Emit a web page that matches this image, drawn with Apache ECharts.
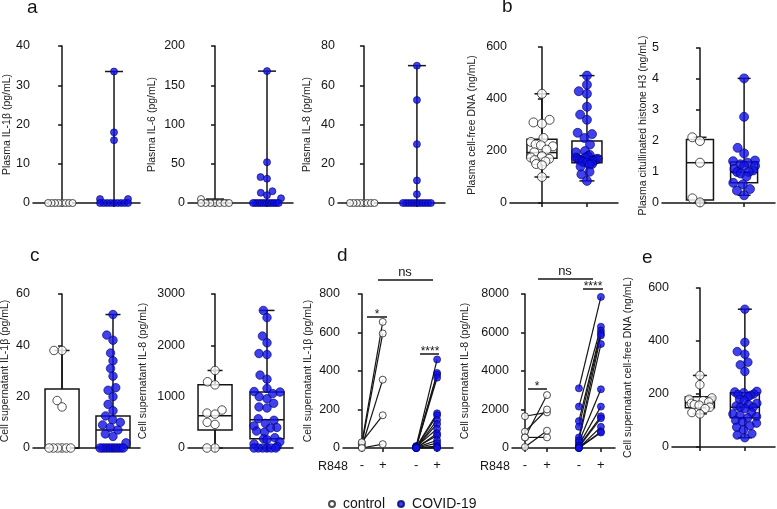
<!DOCTYPE html>
<html><head><meta charset="utf-8">
<script src="https://cdn.jsdelivr.net/npm/echarts@6/dist/echarts.min.js"></script>
<style>html,body{margin:0;padding:0;background:#fff}#c{width:777px;height:509px}</style>
</head><body><div id="c"></div>
<script>
// ================= DATA =================
// a: plasma cytokines
const a1Ctrl = [0,0,0,0,0,0,0,0];
const a1Covid = [33.5,18,16,1,1,0,0,0,0,0,0,0,0,0];
const a1CtrlBox = [0,0,0,0,0];
const a1CovidBox = [0,0,0,0,33.5];

const a2Ctrl = [5,0,0,0,0,0,0,0];
const a2Covid = [168,52,33,31,15,13,10,6,0,0,0,0,0,0,0,0,0,0,0,0];
const a2CtrlBox = [0,0,0,3.5,5];
const a2CovidBox = [0,0,0,1,168];

const a3Ctrl = [0,0,0,0,0,0,0,0];
const a3Covid = [70,52.5,30,11.5,4.5,0,0,0,0,0,0,0,0,0,0,0];
const a3CtrlBox = [0,0,0,0,0];
const a3CovidBox = [0,0,0,0,70];

// b: plasma cfDNA and citrullinated histone H3
const b1Ctrl = [420,320,310,305,250,235,225,222,218,205,195,180,175,170,165,160,150,145,100];
const b1Covid = [490,455,430,420,370,340,320,270,265,250,225,200,195,185,180,175,175,170,170,168,165,162,160,160,158,155,150,148,140,120,110,85];
const b1CtrlBox = [100,172,194,245,420];
const b1CovidBox = [85,155,180,238,490];

const b2Ctrl = [2.12,2.0,1.3,0.15,0.02];
const b2Covid = [4.02,2.78,1.78,1.6,1.37,1.35,1.3,1.25,1.2,1.2,1.1,1.05,1.0,1.0,0.95,0.85,0.65,0.6,0.45,0.4,0.25];
const b2CtrlBox = [0.02,0.1,1.3,2.05,2.12];
const b2CovidBox = [0.25,0.65,1.0,1.32,4.02];

// c: cell supernatant
const c1Ctrl = [38,38,18.5,16,0,0,0,0,0,0];
const c1Covid = [52,44,42,37,34,31,28,23.5,22.5,20,17,14.5,12.5,11,10,9,8,7,5.5,4.5,2,0,0,0,0,0,0,0,0,0,0];
const c1CtrlBox = [0,0,0,23,38];
const c1CovidBox = [0,0.3,7,12.5,52];

const c2Ctrl = [1510,1290,1230,740,680,660,500,460,0,0];
const c2Covid = [2680,2540,2180,2050,1840,1820,1420,1340,1160,1100,1090,1060,1000,960,870,800,780,570,540,480,430,400,390,330,310,200,180,160,120,80,30,0,0,0,0,0,0];
const c2CtrlBox = [0,350,630,1230,1510];
const c2CovidBox = [0,180,550,1090,2680];

// d: R848 stimulation (paired, - then +)
const dTickLabels = ['-','+','-','+'];
const d1CtrlMinus = [25,15,5,30,0];
const d1CtrlPlus  = [655,595,355,170,20];
const d1CovidMinus = [10,5,8,3,5,2,0,4,6,0,3,2,0,1,0,0];
const d1CovidPlus  = [460,390,380,365,180,170,145,125,100,75,65,40,25,10,5,0];
const d2CtrlMinus = [1650,850,550,550,50];
const d2CtrlPlus  = [1850,2000,2750,550,900];
const d2CovidMinus = [3100,2150,1400,1100,550,400,300,150,100,50,0,0,0];
const d2CovidPlus  = [7850,6300,6100,5950,5850,5400,3050,2150,1650,1550,1100,850,800];

// e: cell supernatant cfDNA
const eCtrl = [270,235,185,180,175,170,165,160,158,150,145,130,125];
const eCovid = [520,395,360,350,320,310,285,210,208,205,200,198,195,190,180,175,165,160,155,150,150,145,130,125,120,115,110,100,95,90,80,75,65,50,45,35];
const eCtrlBox = [125,148,168,190,270];
const eCovidBox = [35,110,150,205,520];

// ================= LAYOUT / STYLE =================
const INK = '#151515';
const FONT = '"Liberation Sans", Arial, sans-serif';
const CTRL_STYLE = {color:'#ffffff', borderColor:'#222', borderWidth:1};
const COVID_STYLE = {color:'#1010e8', borderColor:'#00006e', borderWidth:0.8};

const plots = [
 {id:'a1', grid:[33,46,107,157], x:[-0.56,1.5], pos:[0,1], y:[0,40,10], name:'Plasma IL-1β (pg/mL)', gap:20, dot:7, bw:25, cap:18, half:14,
  groups:[[a1Ctrl,a1CtrlBox,'c'],[a1Covid,a1CovidBox,'v']]},
 {id:'a2', grid:[188,46,105,157], x:[-0.52,1.5], pos:[0,1], y:[0,200,50], name:'Plasma IL-6 (pg/mL)', gap:30, dot:7, bw:25, cap:18, half:14,
  groups:[[a2Ctrl,a2CtrlBox,'c'],[a2Covid,a2CovidBox,'v']]},
 {id:'a3', grid:[338,46,107,157], x:[-0.49,1.53], pos:[0,1], y:[0,80,20], name:'Plasma IL-8 (pg/mL)', gap:25, dot:7, bw:25, cap:18, half:14,
  groups:[[a3Ctrl,a3CtrlBox,'c'],[a3Covid,a3CovidBox,'v']]},
 {id:'b1', grid:[510,47,108,156], x:[-0.71,1.69], pos:[0,1], y:[0,600,200], name:'Plasma cell-free DNA (ng/mL)', gap:32, dot:9, bw:30, cap:15, half:11,
  groups:[[b1Ctrl,b1CtrlBox,'c'],[b1Covid,b1CovidBox,'v']]},
 {id:'b2', grid:[662,48,113,155], x:[-0.86,1.7], pos:[0,1], y:[0,5,1], name:'Plasma citullinated histone H3 (ng/mL)', gap:12, dot:9, bw:27, cap:13, half:11,
  groups:[[b2Ctrl,b2CtrlBox,'c'],[b2Covid,b2CovidBox,'v']]},
 {id:'c1', grid:[33,294,107,154], x:[-0.57,1.53], pos:[0,1], y:[0,60,20], name:'Cell supernatant IL-1β (pg/mL)', gap:22, dot:8.5, bw:34, cap:15, half:13,
  groups:[[c1Ctrl,c1CtrlBox,'c'],[c1Covid,c1CovidBox,'v']]},
 {id:'c2', grid:[188,294,105,154], x:[-0.52,1.5], pos:[0,1], y:[0,3000,1000], name:'Cell supernatant IL-8 (pg/mL)', gap:39, dot:8.5, bw:34, cap:15, half:13,
  groups:[[c2Ctrl,c2CtrlBox,'c'],[c2Covid,c2CovidBox,'v']]},
 {id:'d1', grid:[343,294,110,154], x:[-0.9,4.36], pos:[0,1,2.6,3.6], y:[0,800,200], name:'Cell supernatant IL-1β (pg/mL)', gap:29, dot:7,
  pairs:[[d1CtrlMinus,d1CtrlPlus,'c'],[d1CovidMinus,d1CovidPlus,'v']]},
 {id:'d2', grid:[512,294,103,154], x:[-0.59,4.09], pos:[0,1,2.45,3.45], y:[0,8000,2000], name:'Cell supernatant IL-8 (pg/mL)', gap:41, dot:7,
  pairs:[[d2CtrlMinus,d2CtrlPlus,'c'],[d2CovidMinus,d2CovidPlus,'v']]},
 {id:'e', grid:[672,288,103,159], x:[-0.62,1.67], pos:[0,1], y:[0,600,200], name:'Cell supernatant cell-free DNA (ng/mL)', gap:38, dot:8.5, bw:29, cap:14, half:12,
  groups:[[eCtrl,eCtrlBox,'c'],[eCovid,eCovidBox,'v']]},
];

// beeswarm layout (pixel offsets) so points do not overlap
function swarm(vals, pxPerUnit, d, maxHalf) {
  const order = vals.map((v,i)=>i).sort((a,b)=>vals[a]-vals[b]);
  const placed = []; const xs = new Array(vals.length);
  order.forEach(i => {
    const y = vals[i]*pxPerUnit;
    const cands = [0];
    placed.forEach(p => { const dy = y-p.y; if (Math.abs(dy) < d) { const h = Math.sqrt(d*d-dy*dy)+0.01; cands.push(p.x+h, p.x-h); } });
    cands.sort((a,b)=>Math.abs(a)-Math.abs(b) || a-b);
    let best = 0;
    for (const c of cands) { if (placed.every(p => (p.x-c)*(p.x-c)+(p.y-y)*(p.y-y) >= d*d-0.001)) { best = c; break; } }
    placed.push({x:best, y, i}); xs[i] = best;
  });
  const out = xs.slice();
  placed.forEach(p => {
    let m = 0; placed.forEach(q => { if (Math.abs(q.y-p.y) < d*0.5) m = Math.max(m, Math.abs(q.x)); });
    if (m > maxHalf) out[p.i] = p.x*maxHalf/m;
  });
  return out;
}

function boxRenderer(bw, cap) {
  return function(params, api) {
    const x = api.value(0);
    const v = [1,2,3,4,5].map(i=>api.value(i));
    const P = val => api.coord([x, val]);
    const cx = P(v[0])[0];
    const yMn=P(v[0])[1], yQ1=P(v[1])[1], yMd=P(v[2])[1], yQ3=P(v[3])[1], yMx=P(v[4])[1];
    const st = {stroke:INK, lineWidth:1.5};
    return {type:'group', children:[
      {type:'rect', shape:{x:cx-bw/2, y:yQ3, width:bw, height:Math.max(0,yQ1-yQ3)}, style:{stroke:INK, lineWidth:1.5, fill:'#fff'}},
      {type:'line', shape:{x1:cx,y1:yMx,x2:cx,y2:yQ3}, style:st},
      {type:'line', shape:{x1:cx,y1:yQ1,x2:cx,y2:yMn}, style:st},
      {type:'line', shape:{x1:cx-cap/2,y1:yMx,x2:cx+cap/2,y2:yMx}, style:st},
      {type:'line', shape:{x1:cx-cap/2,y1:yMn,x2:cx+cap/2,y2:yMn}, style:st},
      {type:'line', shape:{x1:cx-bw/2,y1:yMd,x2:cx+bw/2,y2:yMd}, style:st}
    ]};
  };
}

const grids=[], xAxes=[], yAxes=[], series=[];
plots.forEach((p, k) => {
  grids.push({left:p.grid[0], top:p.grid[1], width:p.grid[2], height:p.grid[3], containLabel:false, outerBoundsMode:'none'});
  const isD = !!p.pairs;
  xAxes.push({gridIndex:k, type:'value', min:p.x[0], max:p.x[1],
    axisLine:{show:true, onZero:false, lineStyle:{color:INK, width:1.5}},
    axisTick:{show:true, customValues:p.pos, length:4, lineStyle:{color:INK, width:1.5}},
    axisLabel: isD ? {show:true, customValues:p.pos, fontSize:13, color:INK, margin:11, fontFamily:FONT,
        formatter: val => { const i = p.pos.findIndex(q=>Math.abs(q-val)<1e-6); return i>=0 ? dTickLabels[i] : ''; }} : {show:false},
    splitLine:{show:false}});
  yAxes.push({gridIndex:k, type:'value', min:p.y[0], max:p.y[1], interval:p.y[2],
    axisLine:{show:true, lineStyle:{color:INK, width:1.5}},
    axisTick:{show:true, length:4, lineStyle:{color:INK, width:1.5}},
    axisLabel:{fontSize:12.5, color:INK, margin:3, fontFamily:FONT, formatter: v => String(v)},
    splitLine:{show:false},
    name:p.name, nameLocation:'middle', nameRotate:90, nameGap:p.gap,
    nameTextStyle:{fontSize:10.5, color:'#222', fontFamily:FONT}});
  const pxY = p.grid[3]/(p.y[1]-p.y[0]);
  const ux = p.grid[2]/(p.x[1]-p.x[0]);
  if (!isD) {
    series.push({type:'custom', xAxisIndex:k, yAxisIndex:k, clip:false, z:2, silent:true,
      encode:{x:0, y:[1,5]},
      data:p.groups.map((g,j)=>[p.pos[j], ...g[1]]), renderItem:boxRenderer(p.bw, p.cap)});
    p.groups.forEach((g,j) => {
      const dx = swarm(g[0], pxY, p.dot*0.95, p.half);
      series.push({type:'scatter', name: g[2]==='c' ? 'control' : 'COVID-19', xAxisIndex:k, yAxisIndex:k,
        symbol:'circle', symbolSize:p.dot, z:4, silent:true, clip:false,
        itemStyle: g[2]==='c' ? CTRL_STYLE : COVID_STYLE,
        data: g[0].map((v,i)=>[p.pos[j] + dx[i]/ux, v])});
    });
  } else {
    p.pairs.forEach((g,j) => {
      const x0 = p.pos[2*j], x1 = p.pos[2*j+1];
      series.push({type:'custom', xAxisIndex:k, yAxisIndex:k, clip:false, z:2, silent:true,
        encode:{x:[0,2], y:[1,3]},
        data: g[0].map((v,i)=>[x0, v, x1, g[1][i]]),
        renderItem:(params, api) => {
          const a = api.coord([api.value(0), api.value(1)]), b = api.coord([api.value(2), api.value(3)]);
          return {type:'line', shape:{x1:a[0],y1:a[1],x2:b[0],y2:b[1]}, style:{stroke:INK, lineWidth:1.2}};
        }});
      const nm = g[2]==='c' ? 'control' : 'COVID-19';
      const sty = g[2]==='c' ? CTRL_STYLE : COVID_STYLE;
      series.push({type:'scatter', name:nm, xAxisIndex:k, yAxisIndex:k, symbolSize:p.dot, z:4, silent:true, clip:false,
        itemStyle:sty, data: g[0].map(v=>[x0, v]).concat(g[1].map(v=>[x1, v]))});
    });
  }
});

// annotations (panel letters, significance bars, R848 labels)
function txt(x, y, s, size, align, valign) {
  return {type:'text', x, y, z:10, style:{text:s, font:size+'px '+FONT, fill:INK, align:align||'left', verticalAlign:valign||'top'}};
}
function bar(x1, x2, y) {
  return {type:'line', z:10, shape:{x1, y1:y, x2, y2:y}, style:{stroke:INK, lineWidth:1.5}};
}
const graphics = [
  txt(27,-2,'a',19), txt(502,-3,'b',19), txt(30,246,'c',19), txt(337,246,'d',19), txt(642,248,'e',19),
  bar(378,433,280), txt(405,279,'ns',13,'center','bottom'),
  bar(367,387,317), txt(377,321,'*',12,'center','bottom'),
  bar(420,439,354), txt(430,358,'****',12,'center','bottom'),
  bar(538,593,279), txt(565,278,'ns',13,'center','bottom'),
  bar(528,547,389), txt(537,393,'*',12,'center','bottom'),
  bar(583,603,289), txt(593,293,'****',12,'center','bottom'),
  txt(318,460,'R848',12.5), txt(480,460,'R848',12.5)
];

const chart = echarts.init(document.getElementById('c'), null, {renderer:'canvas'});
chart.setOption({
  animation:false,
  backgroundColor:'#fff',
  textStyle:{fontFamily:FONT},
  grid:grids, xAxis:xAxes, yAxis:yAxes, series,
  legend:{data:['control','COVID-19'], left:323, top:492, icon:'circle', itemWidth:12, itemHeight:6, itemGap:12,
    selectedMode:false, textStyle:{fontSize:14, color:INK, fontFamily:FONT}},
  graphic:graphics
});
</script></body></html>
